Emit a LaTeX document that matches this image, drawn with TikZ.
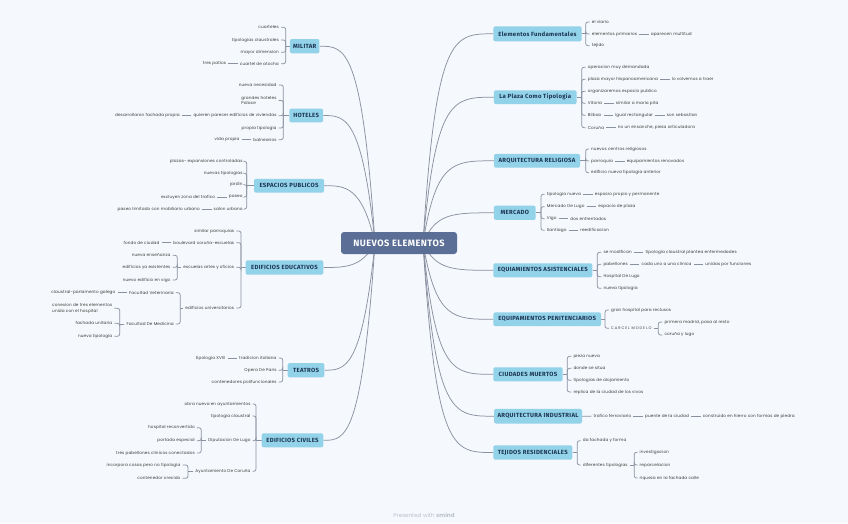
\documentclass[tikz,border=0pt]{standalone}
\usepackage{fontspec}
\setmainfont{Poppins}
\newfontfamily\smallf[LetterSpace=3]{Poppins}
\newfontfamily\capf[LetterSpace=25]{Poppins}
\newfontfamily\topf[LetterSpace=5]{Fira Sans}
\usetikzlibrary{positioning,calc,backgrounds}
\definecolor{bgc}{HTML}{F5F8FC}
\definecolor{lc}{HTML}{8A91A1}
\definecolor{tc}{HTML}{3A3A3A}
\definecolor{tf}{HTML}{93D3EA}
\definecolor{tt}{HTML}{1C3452}
\definecolor{cf}{HTML}{5B6E95}
\definecolor{wm}{HTML}{BCC1CA}
\pgfdeclarelayer{bg}
\pgfsetlayers{bg,background,main}
\tikzset{
  ln/.style={draw=lc, line width=0.75pt},
  br/.style={ln, rounded corners=2.2pt},
  lab/.style={font=\smallf\fontsize{4.15}{5.8}\selectfont, text=tc, inner xsep=2pt, inner ysep=0.6pt},
  tl/.style={lab, anchor=east},
  tr/.style={lab, anchor=west},
  topic/.style={fill=tf, rounded corners=2pt, font=\topf\bfseries\fontsize{6}{7}\selectfont, text=tt, inner xsep=0pt, inner ysep=0pt, anchor=center},
}
\newcommand\lcurve[2]{\draw[ln] (cl) .. controls (362,#2) and (345,#2) .. (#1.east);}
\newcommand\rcurve[2]{\draw[ln] (cr) .. controls (436,#2) and (453,#2) .. (#1.west);}
\begin{document}
\begin{tikzpicture}[x=1pt,y=-1pt]
\useasboundingbox (0,0) rectangle (848,523);
\begin{pgfonlayer}{bg}
\fill[bgc] (0,0) rectangle (848,523);
\end{pgfonlayer}
% center
\node[fill=cf, rounded corners=3pt, minimum width=116pt, minimum height=22pt, text=white, inner sep=0pt, font=\topf\bfseries\fontsize{9.2}{10}\selectfont] (c) at (399,243) {NUEVOS ELEMENTOS};
\coordinate (cl) at (375,243);
\coordinate (cr) at (423,243);
% ---------------- LEFT ----------------
% MILITAR
\node[topic, minimum width=29.5pt, minimum height=14.3pt] (mt) at (304.7,46.2) {MILITAR};
\coordinate (mb) at (285.7,46.2);
\node[tl] (m1) at (281,27.3) {cuarteles};
\node[tl] (m2) at (281,40) {tipologias claustrales};
\node[tl] (m3) at (281,52.3) {mayor dimension};
\node[tl] (m4) at (281,63.7) {cuartel de atocha};
\node[tl, left=9.5pt of m4] (m5) {tres patios};
% HOTELES
\node[topic, minimum width=33.7pt, minimum height=13.8pt] (ht) at (306.2,115.5) {HOTELES};
\coordinate (hb) at (283.3,115.5);
\node[tl] (h1) at (278.7,85) {nueva necesidad};
\node[tl, align=left] (h2) at (278.7,100.4) {grandes hoteles\\Palace};
\node[tl] (h3) at (278.7,115.7) {quieren parecer edificios de viviendas};
\node[tl, left=9.5pt of h3] (h4) {desarrollaron fachada propia};
\node[tl] (h5) at (278.7,128) {propia tipologia};
\node[tl] (h6) at (278.7,139.7) {balnearios};
\node[tl, left=9.5pt of h6] (h7) {vida propia};
% ESPACIOS PUBLICOS
\node[topic, minimum width=70pt, minimum height=13.8pt] (et) at (289,185.7) {ESPACIOS PUBLICOS};
\coordinate (eb) at (246.7,185.7);
\node[tl] (e1) at (244.7,161.3) {plazas- expansiones controladas};
\node[tl] (e2) at (244.7,173.3) {nuevas tipologias};
\node[tl] (e3) at (244.7,184.7) {jardin};
\node[tl] (e4) at (244.7,197) {paseo};
\node[tl, left=9.5pt of e4] (e5) {excluyen zona del trafico};
\node[tl] (e6) at (244.7,209) {salon urbano};
\node[tl, left=9.5pt of e6] (e7) {paseo limitado con mobiliario urbano};
% EDIFICIOS EDUCATIVOS
\node[topic, minimum width=77.6pt, minimum height=14.4pt] (dt) at (284.5,267.5) {EDIFICIOS EDUCATIVOS};
\coordinate (db) at (241,267.5);
\node[tl] (d1) at (236.3,231) {similar parroquias};
\node[tl] (d2) at (236.3,242.7) {boulevard coruña-escuelas};
\node[tl, left=9.5pt of d2] (d3) {fondo de ciudad};
\node[tl] (d4) at (236.3,267.3) {escuelas artes y oficios};
\coordinate (d4b) at ([xshift=-4pt]d4.west);
\node[tl] (d41) at ($(d4b)+(-4.7,-12)$) {nueva enseñanza};
\node[tl] (d42) at ($(d4b)+(-4.7,0)$) {edificios ya existentes};
\node[tl] (d43) at ($(d4b)+(-4.7,12.7)$) {nuevo edificio en vigo};
\node[tl] (d5) at (236.3,308) {edificios universitarios};
\coordinate (d5b) at ([xshift=-3pt]d5.west);
\node[tl] (d51) at ($(d5b)+(-4.4,-15.3)$) {Facultad Veterinaria};
\node[tl, left=9.5pt of d51] (d52) {claustral-parlamento galego};
\node[tl] (d53) at ($(d5b)+(-4.4,16)$) {Facultad De Medicina};
\coordinate (d53b) at ([xshift=-4.7pt]d53.west);
\node[tl, align=left] (d531) at ($(d53b)+(-5.3,-15.7)$) {conexion de tres elementos\\unida con el hospital};
\node[tl] (d532) at ($(d53b)+(-5.3,-0.7)$) {fachada unitaria};
\node[tl] (d533) at ($(d53b)+(-5.3,12.3)$) {nueva tipologia};
% TEATROS
\node[topic, minimum width=36.6pt, minimum height=14.3pt] (tt) at (306,370.2) {TEATROS};
\coordinate (tb) at (282.7,370.2);
\node[tl] (t1) at (278.7,358) {tradicion italiana};
\node[tl, left=9.5pt of t1] (t2) {tipologia XVIII};
\node[tl] (t3) at (278.7,370.3) {Opera De Paris};
\node[tl] (t4) at (278.7,382) {contenedores polifuncionales};
% EDIFICIOS CIVILES
\node[topic, minimum width=61.6pt, minimum height=14pt] (ct) at (292.5,440.3) {EDIFICIOS CIVILES};
\coordinate (cb) at (256,440.3);
\node[tl] (c1) at (252.7,404) {obra nueva en ayuntamientos};
\node[tl] (c2) at (252.7,416) {tipologia claustral};
\node[tl] (c3) at (252.7,440.7) {Diputacion De Lugo};
\coordinate (c3b) at ([xshift=-5pt]c3.west);
\node[tl] (c31) at ($(c3b)+(-4.3,-13)$) {hospital reconvertido};
\node[tl] (c32) at ($(c3b)+(-4.3,0)$) {portada especial};
\node[tl] (c33) at ($(c3b)+(-4.3,12.3)$) {tres pabellones clinicos conectados};
\node[tl] (c4) at (252.7,471.3) {Ayuntamiento De Coruña};
\coordinate (c4b) at ([xshift=-5.3pt]c4.west);
\node[tl] (c41) at ($(c4b)+(-5.4,-6.3)$) {incorpora cosas pero no tipologia};
\node[tl] (c42) at ($(c4b)+(-5.4,7)$) {contenedor crecido};
% ---------------- RIGHT ----------------
\node[topic, minimum width=88.4pt, minimum height=15pt] (ft) at (537.5,33.8) {Elementos Fundamentales};
\coordinate (fb) at (585.7,33.8);
\node[tr] (f1) at (589.7,22) {el viario};
\node[tr] (f2) at (589.7,34) {elementos primarios};
\node[tr, right=9.5pt of f2] (f3) {aparecen multitud};
\node[tr] (f4) at (589.7,45.7) {tejido};
% Plaza
\node[topic, minimum width=82.7pt, minimum height=13.8pt] (pt) at (535.3,97.2) {La Plaza Como Tipologia};
\coordinate (pb) at (581.7,97.2);
\node[tr] (p1) at (585.7,67.3) {operacion muy demandada};
\node[tr] (p2) at (585.7,79.3) {plaza mayor hispanoamericana};
\node[tr, right=9.5pt of p2] (p3) {lo volvemos a traer};
\node[tr] (p4) at (585.7,91.3) {organizaremos espacio publico};
\node[tr] (p5) at (585.7,103.3) {Vitoria};
\node[tr, right=9.5pt of p5] (p6) {similar a maria pita};
\node[tr] (p7) at (585.7,115.3) {Bilbao};
\node[tr, right=9.5pt of p7] (p8) {igual rectangular};
\node[tr, right=9.5pt of p8] (p9) {son sebastian};
\node[tr] (p10) at (585.7,127.7) {Coruña};
\node[tr, right=9.5pt of p10] (p11) {no un ensanche, pieza articuladora};
% Religiosa
\node[topic, minimum width=86pt, minimum height=13.8pt] (rt) at (537,160.8) {ARQUITECTURA RELIGIOSA};
\coordinate (rb) at (585.7,160.8);
\node[tr] (r1) at (589,149) {nuevos centros religiosos};
\node[tr] (r2) at (589,161) {parroquia};
\node[tr, right=9.5pt of r2] (r3) {equipamientos renovados};
\node[tr] (r4) at (589,172.7) {edificio nueva tipologia anterior};
% Mercado
\node[topic, minimum width=41.7pt, minimum height=14.3pt] (kt) at (514.8,212.8) {MERCADO};
\coordinate (kb) at (541,212.8);
\node[tr] (k1) at (544.7,194.3) {tipologia nueva};
\node[tr, right=9.5pt of k1] (k2) {espacio propio y permanente};
\node[tr] (k3) at (544.7,206.7) {Mercado De Lugo};
\node[tr, right=9.5pt of k3] (k4) {espacio de plaza};
\node[tr] (k5) at (544.7,218.7) {Vigo};
\node[tr, right=9.5pt of k5] (k6) {dos enfrentados};
\node[tr] (k7) at (544.7,230.3) {Santiago};
\node[tr, right=9.5pt of k7] (k8) {reedificacion};
% Asistenciales
\node[topic, minimum width=99pt, minimum height=14pt] (at) at (542.8,270.3) {EQUIAMIENTOS ASISTENCIALES};
\coordinate (ab) at (597.3,270.3);
\node[tr] (a1) at (601.3,252.3) {se modifican};
\node[tr, right=9.5pt of a1] (a2) {tipologia claustral plantea enfermedades};
\node[tr] (a3) at (601.3,264.3) {pabellones};
\node[tr, right=9.5pt of a3] (a4) {cada uno a una clinica};
\node[tr, right=9.5pt of a4] (a5) {unidas por funciones};
\node[tr] (a6) at (601.3,276.7) {Hospital De Lugo};
\node[tr] (a7) at (601.3,288.3) {nueva tipologia};
% Penitenciarios
\node[topic, minimum width=107.7pt, minimum height=13.8pt] (nt) at (547.2,319.3) {EQUIPAMIENTOS PENITENCIARIOS};
\coordinate (nb) at (605,319.3);
\node[tr] (n1) at (609,310) {gran hospital para reclusos};
\node[tr, font=\capf\fontsize{3.7}{5}\selectfont] (n2) at (609,328.3) {CARCEL MODELO};
\coordinate (n2b) at ([xshift=4.7pt]n2.east);
\node[tr] (n21) at ($(n2b)+(4,-6.3)$) {primera madrid, pasa al resto};
\node[tr] (n22) at ($(n2b)+(4,6.7)$) {coruña y lugo};
% Ciudades muertos
\node[topic, minimum width=69.4pt, minimum height=14pt] (ut) at (528,374.3) {CIUDADES MUERTOS};
\coordinate (ub) at (567.3,374.3);
\node[tr] (u1) at (571.3,356.3) {pieza nueva};
\node[tr] (u2) at (571.3,368.3) {donde se situa};
\node[tr] (u3) at (571.3,380.3) {tipologias de alojamiento};
\node[tr] (u4) at (571.3,392) {replica de la ciudad de los vivos};
% Industrial
\node[topic, minimum width=88pt, minimum height=14.6pt] (it) at (538,416.2) {ARQUITECTURA INDUSTRIAL};
\node[tr] (i1) at (591.3,416.3) {trafico ferroviario};
\node[tr, right=9.5pt of i1] (i2) {puente de la ciudad};
\node[tr, right=9.5pt of i2] (i3) {construido en hierro con formas de piedra};
% Tejidos
\node[topic, minimum width=79pt, minimum height=14.4pt] (jt) at (532.8,452.5) {TEJIDOS RESIDENCIALES};
\coordinate (jb) at (577.3,452.5);
\node[tr] (j1) at (580.7,440.7) {da fachada y forma};
\node[tr] (j2) at (580.7,465) {diferentes tipologias};
\coordinate (j2b) at ([xshift=4.4pt]j2.east);
\node[tr] (j21) at ($(j2b)+(3.3,-12.7)$) {investigacion};
\node[tr] (j22) at ($(j2b)+(3.3,0)$) {reparcelacion};
\node[tr] (j23) at ($(j2b)+(3.3,13)$) {riqueza en la fachada calle};
% watermark
\node[font=\fontsize{5.6}{6}\selectfont, text=wm, inner sep=0pt] (wmk) at (424,515) {Presented with \textbf{xmind}};
% ---------------- CONNECTORS ----------------
\begin{pgfonlayer}{background}
\lcurve{mt}{46.2}
\lcurve{ht}{115.5}
\lcurve{et}{185.7}
\lcurve{dt}{267.5}
\lcurve{tt}{370.2}
\lcurve{ct}{440.3}
\rcurve{ft}{33.8}
\rcurve{pt}{97.2}
\rcurve{rt}{160.8}
\rcurve{kt}{212.8}
\rcurve{at}{270.3}
\rcurve{nt}{319.3}
\rcurve{ut}{374.3}
\rcurve{it}{416.2}
\rcurve{jt}{452.5}
% left braces
\draw[ln] (mt.west) -- (mb);
\foreach \n in {m1,m2,m3,m4} \draw[br] (mb) |- (\n.east);
\draw[ln] (m4.west) -- (m5.east);
\draw[ln] (ht.west) -- (hb);
\foreach \n in {h1,h2,h3,h5,h6} \draw[br] (hb) |- (\n.east);
\draw[ln] (h3.west) -- (h4.east);
\draw[ln] (h6.west) -- (h7.east);
\draw[ln] (et.west) -- (eb);
\foreach \n in {e1,e2,e3,e4,e6} \draw[br] (eb) |- (\n.east);
\draw[ln] (e4.west) -- (e5.east);
\draw[ln] (e6.west) -- (e7.east);
\draw[ln] (dt.west) -- (db);
\foreach \n in {d1,d2,d4,d5} \draw[br] (db) |- (\n.east);
\draw[ln] (d2.west) -- (d3.east);
\draw[ln] (d4.west) -- (d4b);
\foreach \n in {d41,d42,d43} \draw[br] (d4b) |- (\n.east);
\draw[ln] (d5.west) -- (d5b);
\foreach \n in {d51,d53} \draw[br] (d5b) |- (\n.east);
\draw[ln] (d51.west) -- (d52.east);
\draw[ln] (d53.west) -- (d53b);
\foreach \n in {d531,d532,d533} \draw[br] (d53b) |- (\n.east);
\draw[ln] (tt.west) -- (tb);
\foreach \n in {t1,t3,t4} \draw[br] (tb) |- (\n.east);
\draw[ln] (t1.west) -- (t2.east);
\draw[ln] (ct.west) -- (cb);
\foreach \n in {c1,c2,c3,c4} \draw[br] (cb) |- (\n.east);
\draw[ln] (c3.west) -- (c3b);
\foreach \n in {c31,c32,c33} \draw[br] (c3b) |- (\n.east);
\draw[ln] (c4.west) -- (c4b);
\foreach \n in {c41,c42} \draw[br] (c4b) |- (\n.east);
% right braces
\draw[ln] (ft.east) -- (fb);
\foreach \n in {f1,f2,f4} \draw[br] (fb) |- (\n.west);
\draw[ln] (f2.east) -- (f3.west);
\draw[ln] (pt.east) -- (pb);
\foreach \n in {p1,p2,p4,p5,p7,p10} \draw[br] (pb) |- (\n.west);
\draw[ln] (p2.east) -- (p3.west);
\draw[ln] (p5.east) -- (p6.west);
\draw[ln] (p7.east) -- (p8.west);
\draw[ln] (p8.east) -- (p9.west);
\draw[ln] (p10.east) -- (p11.west);
\draw[ln] (rt.east) -- (rb);
\foreach \n in {r1,r2,r4} \draw[br] (rb) |- (\n.west);
\draw[ln] (r2.east) -- (r3.west);
\draw[ln] (kt.east) -- (kb);
\foreach \n in {k1,k3,k5,k7} \draw[br] (kb) |- (\n.west);
\draw[ln] (k1.east) -- (k2.west);
\draw[ln] (k3.east) -- (k4.west);
\draw[ln] (k5.east) -- (k6.west);
\draw[ln] (k7.east) -- (k8.west);
\draw[ln] (at.east) -- (ab);
\foreach \n in {a1,a3,a6,a7} \draw[br] (ab) |- (\n.west);
\draw[ln] (a1.east) -- (a2.west);
\draw[ln] (a3.east) -- (a4.west);
\draw[ln] (a4.east) -- (a5.west);
\draw[ln] (nt.east) -- (nb);
\foreach \n in {n1,n2} \draw[br] (nb) |- (\n.west);
\draw[ln] (n2.east) -- (n2b);
\foreach \n in {n21,n22} \draw[br] (n2b) |- (\n.west);
\draw[ln] (ut.east) -- (ub);
\foreach \n in {u1,u2,u3,u4} \draw[br] (ub) |- (\n.west);
\draw[ln] (it.east) -- (i1.west);
\draw[ln] (i1.east) -- (i2.west);
\draw[ln] (i2.east) -- (i3.west);
\draw[ln] (jt.east) -- (jb);
\foreach \n in {j1,j2} \draw[br] (jb) |- (\n.west);
\draw[ln] (j2.east) -- (j2b);
\foreach \n in {j21,j22,j23} \draw[br] (j2b) |- (\n.west);
\end{pgfonlayer}
\end{tikzpicture}
\end{document}
